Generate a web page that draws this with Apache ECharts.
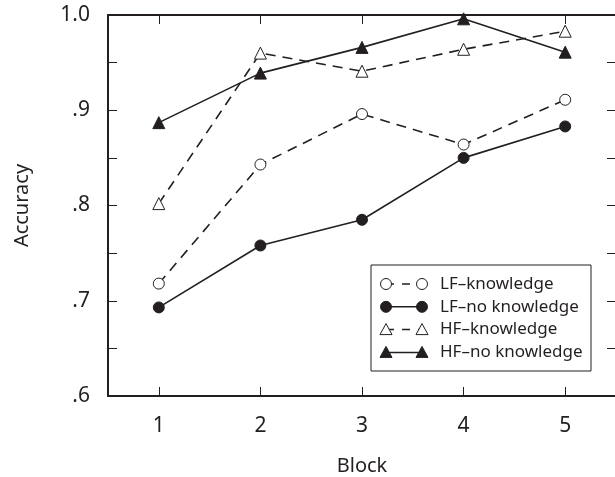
<!DOCTYPE html>
<html>
<head>
<meta charset="utf-8">
<script src="https://cdn.jsdelivr.net/npm/echarts@6/dist/echarts.min.js"></script>
<style>
  html, body { margin: 0; padding: 0; background: #fff; }
  #chart { width: 615px; height: 477px; }
</style>
</head>
<body>
<div id="chart"></div>
<script>
const blocks = ['1', '2', '3', '4', '5'];
const lfKnowledge = [0.718, 0.843, 0.896, 0.864, 0.911];
const lfNoKnowledge = [0.693, 0.758, 0.785, 0.850, 0.883];
const hfKnowledge = [0.802, 0.960, 0.941, 0.964, 0.983];
const hfNoKnowledge = [0.887, 0.939, 0.966, 0.996, 0.961];
const seriesNames = ['LF\u2013knowledge', 'LF\u2013no knowledge', 'HF\u2013knowledge', 'HF\u2013no knowledge'];

const ink = '#231f20';
const font = 'Noto Sans';

function yLabel(v) {
  const k = Math.round(v * 100);
  if (k % 10 !== 0) return '';
  if (k === 100) return '1.0';
  return '.' + (k / 10);
}

const axisBase = {
  axisLine: { show: true, lineStyle: { color: ink, width: 2 } },
  axisTick: { show: true, inside: true, length: 9, lineStyle: { color: ink, width: 1 } },
  splitLine: { show: false }
};

function lineSeries(name, data, symbol, filled, dashed, size) {
  return {
    name: name,
    type: 'line',
    data: data,
    symbol: symbol,
    symbolSize: size,
    showSymbol: true,
    lineStyle: { color: ink, width: 1.6, type: dashed ? [10, 7] : 'solid' },
    itemStyle: { color: filled ? ink : '#fff', borderColor: ink, borderWidth: 1 },
    emphasis: { disabled: true },
    z: 3
  };
}

// legend box, drawn by hand to show a marker at both ends of each key
const legendRows = [
  { name: seriesNames[0], symbol: 'circle', filled: false, dashed: true },
  { name: seriesNames[1], symbol: 'circle', filled: true, dashed: false },
  { name: seriesNames[2], symbol: 'triangle', filled: false, dashed: true },
  { name: seriesNames[3], symbol: 'triangle', filled: true, dashed: false }
];

function legendMarker(kind, filled, x, y) {
  const style = { fill: filled ? ink : '#fff', stroke: ink, lineWidth: 1 };
  if (kind === 'circle') {
    return { type: 'circle', shape: { cx: x, cy: y, r: 5.5 }, style: style, z: 12 };
  }
  return {
    type: 'polygon',
    shape: { points: [[x, y - 6], [x + 6, y + 5], [x - 6, y + 5]] },
    style: style, z: 12
  };
}

const legendGraphics = [{
  type: 'rect',
  shape: { x: 371, y: 265, width: 220, height: 106 },
  style: { fill: '#fff', stroke: ink, lineWidth: 1 },
  z: 10
}];
legendRows.forEach(function (row, i) {
  const cy = 284 + i * 22.8;
  legendGraphics.push({
    type: 'line',
    shape: { x1: 386, y1: cy, x2: 422, y2: cy },
    style: { stroke: ink, lineWidth: 1.5, lineDash: row.dashed ? [8, 8] : null },
    z: 11
  });
  legendGraphics.push(legendMarker(row.symbol, row.filled, 386, cy));
  legendGraphics.push(legendMarker(row.symbol, row.filled, 422, cy));
  legendGraphics.push({
    type: 'text',
    style: {
      text: row.name, x: 440, y: cy, fill: ink,
      font: '17px "' + font + '"', textVerticalAlign: 'middle'
    },
    z: 12
  });
});

const chart = echarts.init(document.getElementById('chart'));
chart.setOption({
  animation: false,
  backgroundColor: '#fff',
  textStyle: { fontFamily: font, color: ink },
  grid: { left: 108, top: 15, right: -1, bottom: 81, containLabel: false, outerBoundsMode: 'none' },
  xAxis: [
    Object.assign({}, axisBase, {
      type: 'category',
      data: blocks,
      boundaryGap: true,
      axisTick: Object.assign({}, axisBase.axisTick, { alignWithLabel: true }),
      axisLabel: { color: ink, fontSize: 21, margin: 20, fontFamily: font },
      name: 'Block',
      nameLocation: 'middle',
      nameGap: 60,
      nameTextStyle: { fontSize: 20, color: ink, fontFamily: font }
    }),
    Object.assign({}, axisBase, {
      type: 'category',
      data: blocks,
      position: 'top',
      boundaryGap: true,
      axisTick: Object.assign({}, axisBase.axisTick, { alignWithLabel: true }),
      axisLabel: { show: false }
    })
  ],
  yAxis: [
    Object.assign({}, axisBase, {
      type: 'value',
      min: 0.6,
      max: 1.0,
      interval: 0.05,
      axisLabel: { color: ink, fontSize: 21, margin: 18, fontFamily: font, formatter: yLabel },
      name: 'Accuracy',
      nameLocation: 'middle',
      nameGap: 76,
      nameTextStyle: { fontSize: 20, color: ink, fontFamily: font }
    }),
    Object.assign({}, axisBase, {
      type: 'value',
      position: 'right',
      min: 0.6,
      max: 1.0,
      interval: 0.05,
      axisLabel: { show: false }
    })
  ],
  series: [
    lineSeries(seriesNames[0], lfKnowledge, 'circle', false, true, 11),
    lineSeries(seriesNames[1], lfNoKnowledge, 'circle', true, false, 11),
    lineSeries(seriesNames[2], hfKnowledge, 'triangle', false, true, 12),
    lineSeries(seriesNames[3], hfNoKnowledge, 'triangle', true, false, 12)
  ],
  graphic: legendGraphics
});
</script>
</body>
</html>
